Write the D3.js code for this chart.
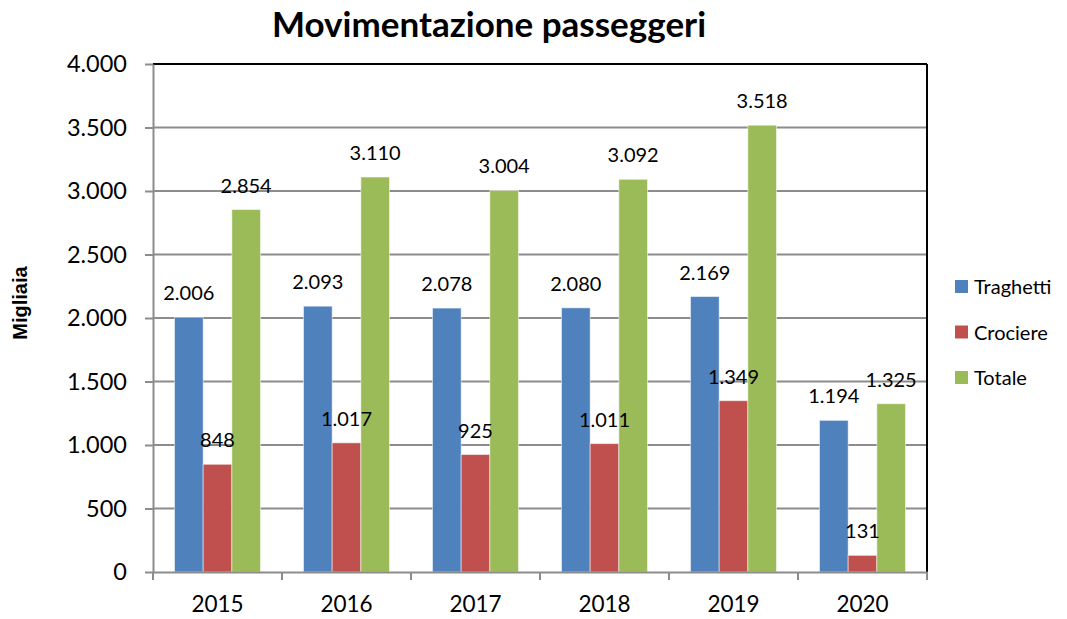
<!DOCTYPE html>
<html>
<head>
<meta charset="utf-8">
<script src="https://cdn.jsdelivr.net/npm/d3@7"></script>
<style>
  body { margin: 0; background: #fff; }
  svg text { font-family: Lato, "Open Sans", sans-serif; fill: #000; }
</style>
</head>
<body>
<div id="chart"></div>
<script>
var years = ["2015", "2016", "2017", "2018", "2019", "2020"];
var seriesNames = ["Traghetti", "Crociere", "Totale"];
var traghetti = [2006, 2093, 2078, 2080, 2169, 1194];
var crociere = [848, 1017, 925, 1011, 1349, 131];
var totale = [2854, 3110, 3004, 3092, 3518, 1325];
var yTicks = [0, 500, 1000, 1500, 2000, 2500, 3000, 3500, 4000];
var colors = ["#4F81BD", "#C0504D", "#9BBB59"];

var seriesValues = [traghetti, crociere, totale];

var W = 1067, H = 619;
var margin = {top: 64, right: 140, bottom: 47, left: 153},
    width = 927 - margin.left,
    height = 572 - margin.top;

var fmt = function (v) { return d3.format(",")(v).replace(/,/g, "."); };

var svg = d3.select("#chart")
  .append("svg")
    .attr("width", W)
    .attr("height", H);

var g = svg.append("g")
    .attr("transform", "translate(" + margin.left + "," + margin.top + ")");

var x0 = d3.scaleBand()
  .domain(years)
  .range([0, width])
  .padding(0);

// gap width 150% -> 0.75 bar on each side
var x1 = d3.scaleBand()
  .domain(seriesNames)
  .range([0, x0.bandwidth()])
  .paddingOuter(0.75)
  .paddingInner(0);

var y = d3.scaleLinear()
  .domain([0, 4000])
  .range([height, 0]);

// gridlines
g.append("g")
  .selectAll("line")
  .data(yTicks.slice(1, -1))
  .enter()
  .append("line")
    .attr("x1", 0)
    .attr("x2", width)
    .attr("y1", function (d) { return y(d); })
    .attr("y2", function (d) { return y(d); })
    .attr("stroke", "#8c8c8c")
    .attr("stroke-width", 2);

// top & right border
g.append("line")
  .attr("x1", 0).attr("x2", width)
  .attr("y1", 0).attr("y2", 0)
  .attr("stroke", "#000").attr("stroke-width", 2);
g.append("line")
  .attr("x1", width).attr("x2", width)
  .attr("y1", 0).attr("y2", height)
  .attr("stroke", "#000").attr("stroke-width", 2);

// bars
var data = [];
years.forEach(function (yr, i) {
  seriesNames.forEach(function (s, j) {
    data.push({year: yr, series: s, value: seriesValues[j][i], color: colors[j]});
  });
});

g.append("g")
  .selectAll("rect")
  .data(data)
  .enter()
  .append("rect")
    .attr("x", function (d) { return x0(d.year) + x1(d.series); })
    .attr("y", function (d) { return y(d.value); })
    .attr("width", x1.bandwidth())
    .attr("height", function (d) { return height - y(d.value); })
    .attr("fill", function (d) { return d.color; })
    .attr("stroke", "#ffffff")
    .attr("stroke-opacity", 0.5)
    .attr("stroke-width", 1);

// value labels
g.append("g")
  .selectAll("text")
  .data(data)
  .enter()
  .append("text")
    .attr("x", function (d) { return x0(d.year) + x1(d.series) + x1.bandwidth() / 2; })
    .attr("y", function (d) { return y(d.value) - 17; })
    .attr("text-anchor", "middle")
    .style("font-size", "20px")
    .text(function (d) { return fmt(d.value); });

// y axis
var yAxis = g.append("g")
  .call(d3.axisLeft(y).tickValues(yTicks).tickFormat(fmt).tickSize(8).tickSizeOuter(0));
yAxis.selectAll("path, line").attr("stroke", "#8c8c8c").attr("stroke-width", 2);
yAxis.selectAll("text")
  .attr("x", -26)
  .style("font-size", "23.5px")
  .style("font-family", "Lato, 'Open Sans', sans-serif");

// x axis
var xAxis = g.append("g")
  .attr("transform", "translate(0," + height + ")")
  .call(d3.axisBottom(x0).tickSize(0).tickSizeOuter(0));
xAxis.select("path").attr("stroke", "#8c8c8c").attr("stroke-width", 2);
xAxis.selectAll("text")
  .attr("y", 24)
  .style("font-size", "22.5px")
  .style("font-family", "Lato, 'Open Sans', sans-serif");
g.append("g")
  .selectAll("line")
  .data(d3.range(years.length + 1))
  .enter()
  .append("line")
    .attr("x1", function (d) { return d * x0.step(); })
    .attr("x2", function (d) { return d * x0.step(); })
    .attr("y1", height)
    .attr("y2", height + 8)
    .attr("stroke", "#8c8c8c")
    .attr("stroke-width", 2);

// title
svg.append("text")
  .attr("x", 489)
  .attr("y", 37)
  .attr("text-anchor", "middle")
  .style("font-size", "35px")
  .style("font-weight", "bold")
  .text("Movimentazione passeggeri");

// y label
svg.append("text")
  .attr("transform", "translate(27,303) rotate(-90)")
  .attr("text-anchor", "middle")
  .style("font-family", "'Liberation Sans', Arial, sans-serif")
  .style("font-size", "20px")
  .style("font-weight", "bold")
  .text("Migliaia");

// legend
var legend = svg.append("g")
  .selectAll("g")
  .data(seriesNames)
  .enter()
  .append("g")
    .attr("transform", function (d, i) { return "translate(955," + (287 + i * 45.5) + ")"; });
legend.append("rect")
  .attr("x", 0).attr("y", -7)
  .attr("width", 13).attr("height", 13)
  .attr("fill", function (d, i) { return colors[i]; });
legend.append("text")
  .attr("x", 19)
  .attr("y", 7)
  .style("font-size", "20px")
  .text(function (d) { return d; });
</script>
</body>
</html>
